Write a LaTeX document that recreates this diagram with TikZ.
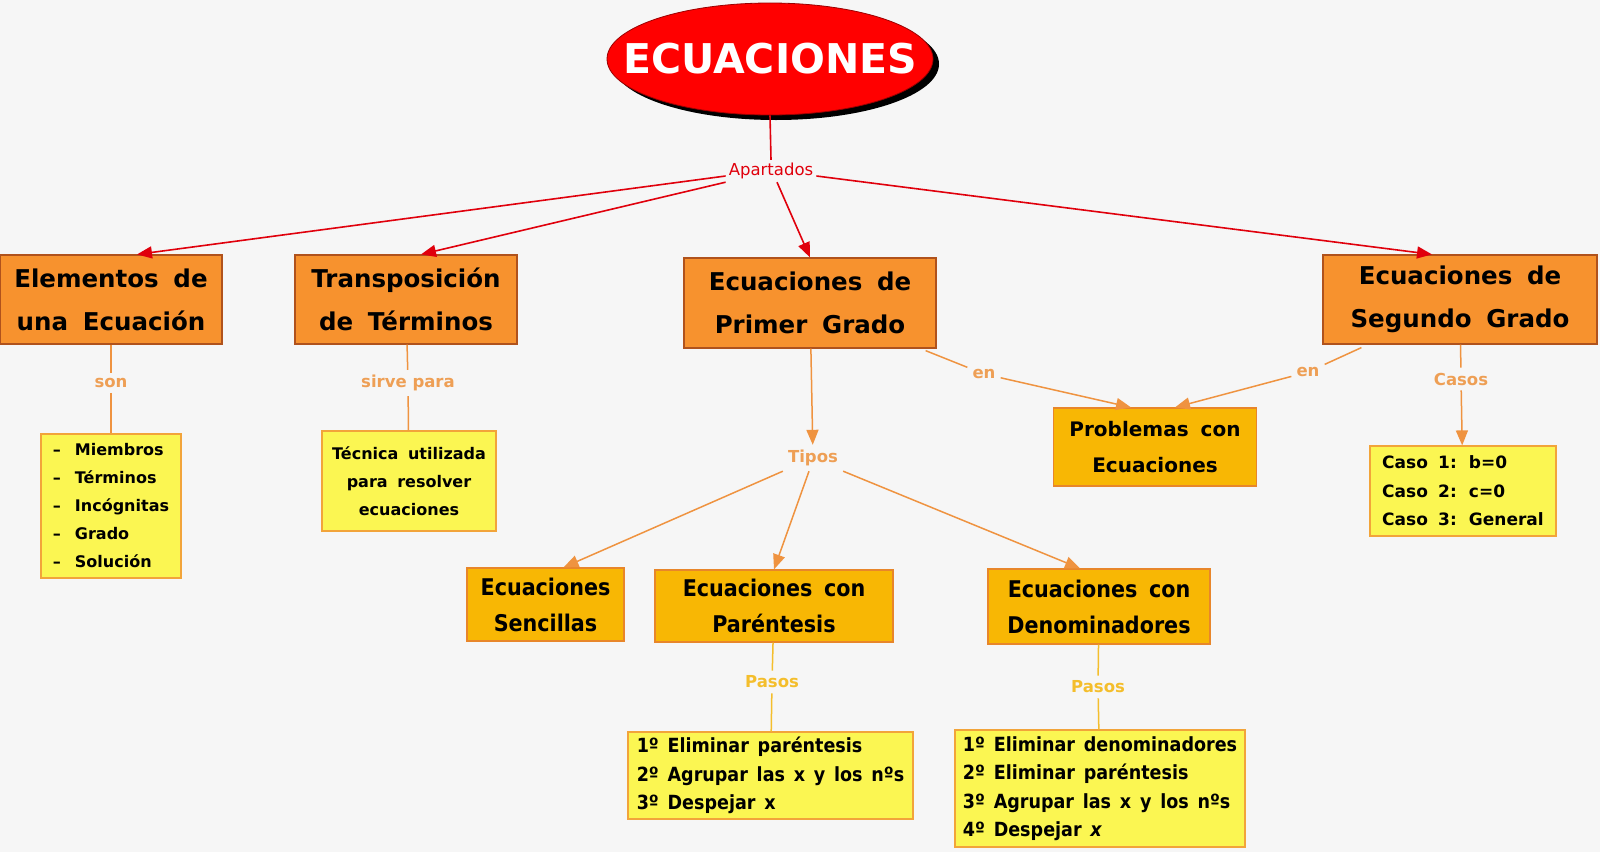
\documentclass[tikz,border=0pt]{standalone}
\usepackage{fontspec}
\setmainfont{DejaVu Sans}
\newfontfamily\condfont{DejaVu Sans Condensed}
\usetikzlibrary{shapes.geometric,arrows.meta,shadows}

\definecolor{bgray}{HTML}{F6F6F6}
\definecolor{tred}{HTML}{FF0000}
\definecolor{tdark}{HTML}{9A0000}
\definecolor{lred}{HTML}{E0000C}
\definecolor{boxor}{HTML}{F7922E}
\definecolor{boxordraw}{HTML}{B0521C}
\definecolor{boxgold}{HTML}{F8B704}
\definecolor{boxgolddraw}{HTML}{E8862A}
\definecolor{boxyel}{HTML}{FBF652}
\definecolor{boxyeldraw}{HTML}{F2A43A}
\definecolor{lnor}{HTML}{EF9340}
\definecolor{lbor}{HTML}{EE9F55}
\definecolor{lngold}{HTML}{F4BE2C}

\newcommand\titlefont{\fontsize{41bp}{41bp}\selectfont\bfseries}
\newcommand\bigfont{\fontsize{24.5bp}{43bp}\selectfont\bfseries\spaceskip=0.6em\relax}
\newcommand\midfont{\fontsize{20bp}{36bp}\selectfont\bfseries\spaceskip=0.6em\relax}
\newcommand\condbig{\condfont\fontsize{23bp}{36bp}\selectfont\bfseries\spaceskip=0.5em\relax}
\newcommand\condsmall{\condfont\fontsize{19.5bp}{28.5bp}\selectfont\bfseries\spaceskip=0.45em\relax}
\newcommand\smallfont{\fontsize{16bp}{28bp}\selectfont\bfseries\spaceskip=0.6em\relax}
\newcommand\casofont{\fontsize{17bp}{28.5bp}\selectfont\bfseries\spaceskip=0.6em\relax}
\newcommand\labfont{\fontsize{16.5bp}{18bp}\selectfont\bfseries}

\begin{document}
\begin{tikzpicture}[x=1bp, y=-1bp,
  every node/.style={inner sep=3bp},
  arr/.style={-{Triangle[length=15bp,width=12bp]}},
  redline/.style={draw=lred, line width=1.6bp},
  orline/.style={draw=lnor, line width=1.5bp},
  goldline/.style={draw=lngold, line width=1.5bp},
  title/.style={ellipse, fill=tred, draw=tdark, line width=0.8bp, inner sep=0pt,
    minimum width=326bp, minimum height=112bp, text=white, font=\titlefont,
    drop shadow={fill=black, opacity=1, shadow xshift=6bp, shadow yshift=-5bp}},
  redlab/.style={text=lred, font=\fontsize{16.5bp}{18bp}\selectfont},
  orlab/.style={text=lbor, font=\labfont, inner sep=5bp},
  goldlab/.style={text=lngold, font=\labfont, inner sep=5bp},
  orbox/.style={draw=boxordraw, fill=boxor, line width=1.2bp, align=center, font=\bigfont},
  goldbox/.style={draw=boxgolddraw, fill=boxgold, line width=1.2bp, align=center},
  yelbox/.style={draw=boxyeldraw, fill=boxyel, line width=1.2bp}]

  \fill[bgray] (0,0) rectangle (1600,852);
  \useasboundingbox (0,0) rectangle (1600,852);

  % title and first level
  \node[title] (title) at (770,59) {\makebox[150bp]{ECUACIONES}};
  \node[redlab] (apartados) at (771,171) {Apartados};

  \node[orbox, minimum width=222bp, minimum height=89bp] (elem) at (111,299.5) {Elementos de\\una Ecuación};
  \node[orbox, minimum width=222bp, minimum height=89bp] (trans) at (406,299.5) {Transposición\\de Términos};
  \node[orbox, minimum width=252bp, minimum height=90bp] (primer) at (810,303) {Ecuaciones de\\Primer Grado};
  \node[orbox, minimum width=274bp, minimum height=89bp] (segundo) at (1460,299.5) {Ecuaciones de\\Segundo Grado};

  \draw[redline] (title.south) -- (apartados.north);
  \draw[redline, arr] ([yshift=-5bp]apartados.west) -- ([xshift=26bp]elem.north);
  \draw[redline, arr] (apartados.south west) -- ([xshift=15bp]trans.north);
  \draw[redline, arr] ([xshift=6bp]apartados.south) -- (primer.north);
  \draw[redline, arr] ([yshift=-5bp]apartados.east) -- ([xshift=-28bp]segundo.north);

  % elementos and transposicion
  \node[orlab] (son) at (111,383) {son};
  \node[yelbox, align=left, font=\smallfont, minimum width=140bp, minimum height=144bp] (miembros) at (111,506)
    {–\hspace{14bp}Miembros\\–\hspace{14bp}Términos\\–\hspace{14bp}Incógnitas\\–\hspace{14bp}Grado\\–\hspace{14bp}Solución};
  \draw[orline] (elem) -- (son) -- (miembros);

  \node[orlab] (sirve) at (408,383) {sirve para};
  \node[yelbox, align=center, font=\smallfont, minimum width=174bp, minimum height=100bp] (tecnica) at (409,481)
    {Técnica utilizada\\para resolver\\ecuaciones};
  \draw[orline] (trans) -- (sirve) -- (tecnica);

  % primer grado
  \node[orlab] (tipos) at (813,458) {Tipos};
  \draw[orline, arr] (primer) -- (tipos);

  \node[goldbox, font=\midfont, minimum width=203bp, minimum height=78bp] (problemas) at (1155,447) {Problemas con\\Ecuaciones};
  \node[orlab] (en1) at (984,374) {en};
  \node[orlab] (en2) at (1308,372) {en};
  \draw[orline, arr] ([xshift=-11bp, yshift=-2bp]primer.south east) -- (en1) -- ([xshift=-24bp]problemas.north);
  \draw[orline, arr] ([xshift=39bp, yshift=-3bp]segundo.south west) -- (en2) -- ([xshift=20bp]problemas.north);

  \node[goldbox, font=\condbig, minimum width=157bp, minimum height=73bp] (sencillas) at (545.5,604.5) {Ecuaciones\\Sencillas};
  \node[goldbox, font=\condbig, minimum width=238bp, minimum height=72bp] (parentesis) at (774,606) {Ecuaciones con\\Paréntesis};
  \node[goldbox, font=\condbig, minimum width=222bp, minimum height=75bp] (denom) at (1099,606.5) {Ecuaciones con\\Denominadores};
  \draw[orline, arr] (tipos.south west) -- ([xshift=18bp]sencillas.north);
  \draw[orline, arr] ([xshift=-4bp]tipos.south) -- (parentesis.north);
  \draw[orline, arr] (tipos.south east) -- ([xshift=-19bp]denom.north);

  % pasos
  \node[goldlab] (pasos1) at (772,682) {Pasos};
  \node[yelbox, align=left, font=\condsmall, minimum width=285bp, minimum height=87bp] (lista1) at (770.5,775.5)
    {1º Eliminar paréntesis\\2º Agrupar las x y los nºs\\3º Despejar x};
  \draw[goldline] (parentesis) -- (pasos1) -- (lista1);

  \node[goldlab] (pasos2) at (1098,687) {Pasos};
  \node[yelbox, align=left, font=\condsmall, minimum width=290bp, minimum height=117bp] (lista2) at (1100,788.5)
    {1º Eliminar denominadores\\2º Eliminar paréntesis\\3º Agrupar las x y los nºs\\4º Despejar \textit{x}};
  \draw[goldline] (denom) -- (pasos2) -- (lista2);

  % segundo grado
  \node[orlab] (casos) at (1461,379) {Casos};
  \node[yelbox, align=left, font=\casofont, minimum width=186bp, minimum height=90bp] (casosbox) at (1463,491)
    {Caso 1: b=0\\Caso 2: c=0\\Caso 3: General};
  \draw[orline, arr] (segundo) -- (casos) -- (casosbox);
\end{tikzpicture}
\end{document}
